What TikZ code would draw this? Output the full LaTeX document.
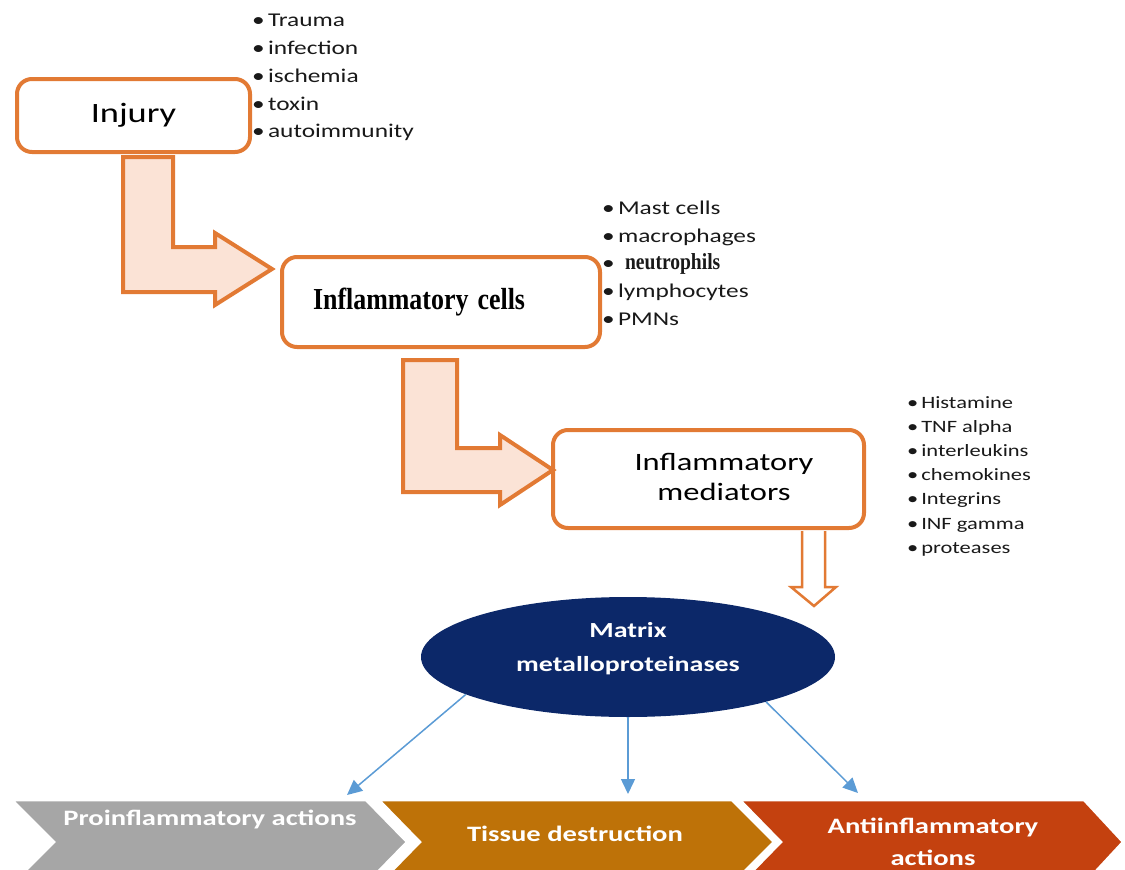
\documentclass[tikz,border=0pt]{standalone}
\usepackage{fontspec}
\setmainfont{Carlito}
\newfontfamily\calwide[FakeStretch=1.3]{Carlito}
\newfontfamily\timesnarrow[FakeStretch=0.85]{Liberation Serif}
\usetikzlibrary{arrows.meta,
                shapes.geometric}
\definecolor{boxorange}{RGB}{226,122,52}
\definecolor{arrowfill}{RGB}{251,227,214}
\definecolor{mmpblue}{RGB}{12,40,105}
\definecolor{linkblue}{RGB}{91,155,213}
\definecolor{chevgray}{RGB}{166,166,166}
\definecolor{chevbrown}{RGB}{190,114,8}
\definecolor{chevred}{RGB}{196,65,15}
\definecolor{listtext}{RGB}{25,25,25}

\begin{document}
\begin{tikzpicture}%
    [x=1pt, y=-1pt,
     stagebox/.style={draw=boxorange, line width=4pt, rounded corners=15pt, fill=white},
     bigarrow/.style={draw=boxorange, line width=4pt, fill=arrowfill, line join=miter},
     itemlist/.style={anchor=north west, align=left, inner sep=0pt, text=listtext},
     chevtext/.style={text=white, align=center, font=\calwide\bfseries\fontsize{22}{32}\selectfont},
     link/.style={draw=linkblue, line width=1.5pt, -{Triangle[length=15pt, width=14pt]}}]
    \path[use as bounding box] (0,0) rectangle (1125,870);
    \clip (0,0) rectangle (1125,870);

    \node[stagebox, minimum width=233pt, minimum height=73pt,
          font=\calwide\fontsize{28}{32}\selectfont] (injury) at (133.5,115.5) {Injury};
    \node[stagebox, minimum width=318pt, minimum height=90pt, text width=256pt,
          inner xsep=31pt, align=left,
          font=\timesnarrow\bfseries\fontsize{30.5}{34}\selectfont] (cells) at (441,302)
        {\mbox{Inflammatory\hspace{9pt}cells}};
    \node[stagebox, minimum width=311pt, minimum height=98pt,
          font=\calwide\fontsize{25}{30}\selectfont] (mediators) at (708.5,479)
        {\hspace*{31pt}\begin{tabular}{@{}c@{}}Inflammatory\\mediators\end{tabular}};
    \node[ellipse, fill=mmpblue, minimum width=414pt, minimum height=120pt, text=white,
          font=\calwide\bfseries\fontsize{21.5}{34}\selectfont] (mmp) at (628,657)
        {\raisebox{9pt}[\height][\depth]{\begin{tabular}{@{}c@{}}Matrix\\metalloproteinases\end{tabular}}};

    \node[itemlist, font=\calwide\fontsize{19.5}{27.8}\selectfont] (causes) at (252,14)
        {•\,Trauma\\•\,infection\\•\,ischemia\\•\,toxin\\•\,autoimmunity};
    \node[itemlist, font=\calwide\fontsize{19.5}{27.6}\selectfont] (celltypes) at (602,201)
        {•\,Mast cells\\•\,macrophages\\•\,\hspace{7pt}{\timesnarrow\bfseries\fontsize{23}{27.6}\selectfont neutrophils}\\•\,lymphocytes\\•\,PMNs};
    \node[itemlist, font=\calwide\fontsize{17.3}{24.2}\selectfont] (agents) at (907,396)
        {•\,Histamine\\•\,TNF alpha\\•\,interleukins\\•\,chemokines\\•\,Integrins\\•\,INF gamma\\•\,proteases};

    \draw[bigarrow] (123,157) -- (173,157) -- (173,247) -- (215,247) -- (215,233) -- (272,269)
        -- (215,305) -- (215,292) -- (123,292) -- cycle;
    \draw[bigarrow] (403,360) -- (457,360) -- (457,448) -- (500,448) -- (500,435) -- (553,470)
        -- (500,505) -- (500,492) -- (403,492) -- cycle;
    \draw[draw=boxorange, line width=2.5pt, fill=white] (802,531) -- (802,587) -- (791,587)
        -- (814,606) -- (836,587) -- (825,587) -- (825,531);

    \fill[chevgray, draw=white, line width=2.5pt] (12,800) -- (366,800) -- (407,842) -- (366,884)
        -- (12,884) -- (54,842) -- cycle;
    \fill[chevbrown, draw=white, line width=2.5pt] (379,800) -- (732,800) -- (774,842) -- (732,884)
        -- (379,884) -- (420,842) -- cycle;
    \fill[chevred, draw=white, line width=2.5pt] (740,800) -- (1084,800) -- (1123,842) -- (1084,884)
        -- (740,884) -- (781,842) -- cycle;
    \node[chevtext] (pro) at (210,819) {Proinflammatory actions};
    \node[chevtext] (tissue) at (575,834) {Tissue destruction};
    \node[chevtext] (anti) at (933,842) {Antiinflammatory\\actions};

    \coordinate (proend) at (347,795);
    \coordinate (tissueend) at (628,794);
    \coordinate (antiend) at (858,793);
    \draw[link] (mmp.193) -- (proend);
    \draw[link] (mmp.south) -- (tissueend);
    \draw[link] (mmp.342) -- (antiend);
\end{tikzpicture}
\end{document}
